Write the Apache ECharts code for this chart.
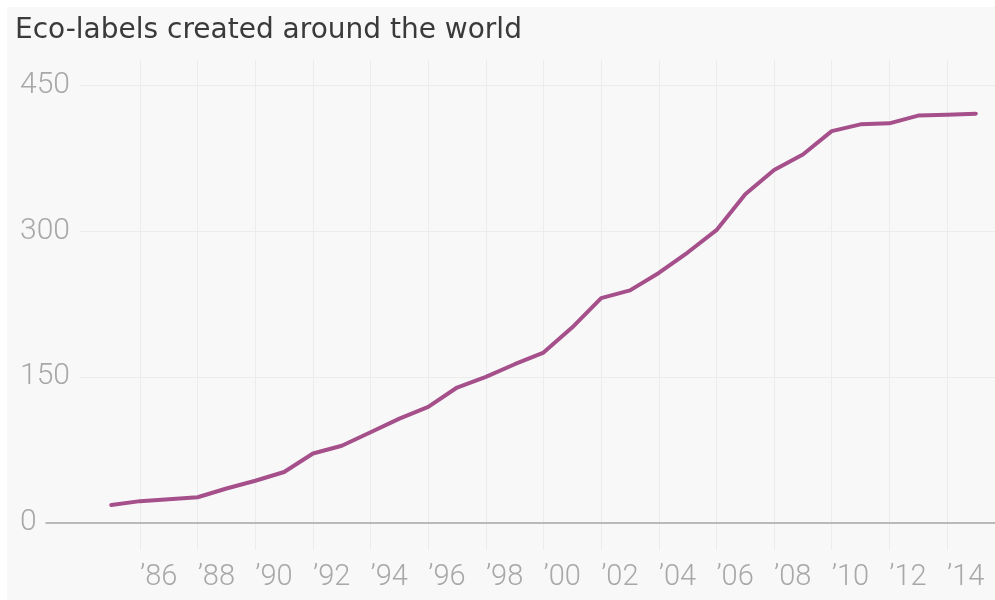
<!DOCTYPE html>
<html>
<head>
<meta charset="utf-8">
<script src="https://cdn.jsdelivr.net/npm/echarts@6/dist/echarts.min.js"></script>
<style>
  html, body { margin: 0; padding: 0; background: #fff; }
  #chart { width: 995px; height: 600px; }
</style>
</head>
<body>
<div id="chart"></div>
<script>
// 数据
const years = [1985, 1986, 1987, 1988, 1989, 1990, 1991, 1992, 1993, 1994,
  1995, 1996, 1997, 1998, 1999, 2000, 2001, 2002, 2003, 2004,
  2005, 2006, 2007, 2008, 2009, 2010, 2011, 2012, 2013, 2014, 2015];
const ecoLabels = [18, 22, 24, 26, 35, 43, 52, 71, 79, 93,
  107, 119, 139, 150, 163, 175, 201, 231, 239, 257,
  278, 301, 338, 363, 379, 403, 410, 411, 419, 420, 421];
const yTicks = [0, 150, 300, 450];
const title = 'Eco-labels created around the world';

const chart = echarts.init(document.getElementById('chart'));

// 每年宽度约 28.8px，竖向网格从 1984 开始（不画），数据网格从 0 线起点开始
const pxPerYear = 28.82;
const leftA = 82.4;
const leftB = 46;
const minB = 1984 - (leftA - leftB) / pxPerYear;
const widthA = 32 * pxPerYear;
const widthB = widthA + (leftA - leftB);

const option = {
  backgroundColor: '#fff',
  animation: false,
  graphic: [{
    type: 'rect',
    z: -100,
    silent: true,
    shape: { x: 7, y: 7, width: 988, height: 593 },
    style: { fill: '#f8f8f8' }
  }],
  title: {
    text: title,
    left: 10,
    top: 12,
    textStyle: { fontFamily: 'DejaVu Sans', fontSize: 28, fontWeight: 400, color: '#3a3a3a' }
  },
  grid: [
    { left: leftA, width: widthA, top: 60, bottom: 50, outerBoundsMode: 'none', containLabel: false },
    { left: leftB, width: widthB, top: 85.5, bottom: 77.5, outerBoundsMode: 'none', containLabel: false }
  ],
  xAxis: [{
    gridIndex: 0,
    type: 'value',
    min: 1984,
    max: 2016,
    interval: 2,
    z: 0,
    axisLine: { show: false },
    axisTick: { show: false },
    splitLine: { show: true, showMinLine: false, showMaxLine: false, lineStyle: { color: '#ececec', width: 1 } },
    axisLabel: {
      showMinLabel: false,
      showMaxLabel: false,
      align: 'left',
      margin: 13,
      fontFamily: 'Roboto',
      fontWeight: 300,
      fontSize: 29,
      color: '#a8a8a8',
      formatter: v => '\u2019' + String(v).slice(2)
    }
  }, {
    gridIndex: 1,
    type: 'value',
    min: minB,
    max: 2016,
    z: 3,
    axisLine: { show: true, lineStyle: { color: '#a6a6a6', width: 1.5 } },
    axisTick: { show: false },
    axisLabel: { show: false },
    splitLine: { show: false }
  }],
  yAxis: [{
    gridIndex: 0,
    type: 'value',
    show: false
  }, {
    gridIndex: 1,
    type: 'value',
    min: 0,
    max: 450,
    interval: 150,
    z: 2,
    axisLine: { show: false },
    axisTick: { show: false },
    splitLine: { lineStyle: { color: '#ececec', width: 1 } },
    axisLabel: {
      customValues: yTicks,
      align: 'left',
      margin: 26,
      padding: [0, 10, 0, 0],
      backgroundColor: '#f8f8f8',
      fontFamily: 'Roboto',
      fontWeight: 300,
      fontSize: 30,
      color: '#a8a8a8'
    }
  }],
  series: [{
    type: 'line',
    xAxisIndex: 1,
    yAxisIndex: 1,
    data: years.map((y, i) => [y, ecoLabels[i]]),
    showSymbol: false,
    z: 5,
    lineStyle: { color: '#a5508a', width: 4, cap: 'round', join: 'round' }
  }]
};

chart.setOption(option);
</script>
</body>
</html>
